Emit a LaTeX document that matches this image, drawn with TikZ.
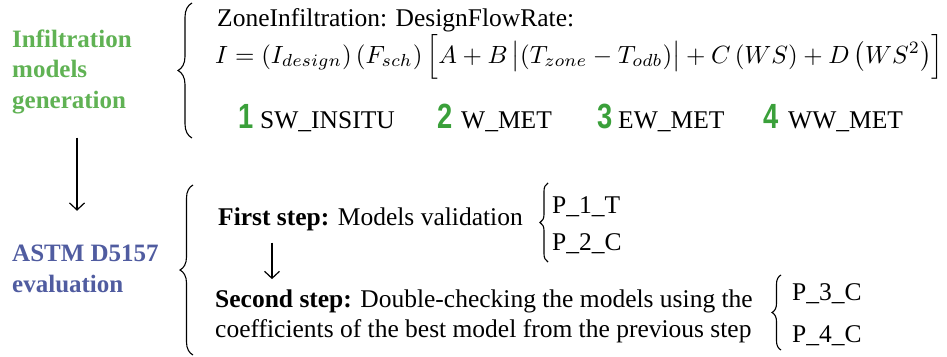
\documentclass[tikz,border=0pt]{standalone}
\usepackage{fontspec}
\setmainfont{Liberation Serif}
\newfontfamily\numfont[FakeStretch=0.78]{Liberation Sans}
\usepackage{graphicx}
\usetikzlibrary{calc,arrows.meta,decorations.pathreplacing}
\definecolor{gengreen}{RGB}{96,178,84}
\definecolor{numgreen}{RGB}{58,160,58}
\definecolor{astmblue}{RGB}{80,92,160}

\tikzset{
	head/.style={font=\fontsize{25}{30.5}\selectfont\bfseries,align=left,inner sep=0pt},
	txt/.style={font=\fontsize{25.5}{30}\selectfont,inner sep=0pt},
	num/.style={font=\fontsize{35}{35}\selectfont\numfont\bfseries,text=numgreen,inner sep=0pt},
	brc/.style={decorate,decoration={brace,amplitude=#1},line width=1.1pt},
	brc/.default=10pt,
	>={Straight Barb[length=7pt,width=15pt]},
}

\begin{document}
\begin{tikzpicture}[x=1pt,y=-1pt]
			\useasboundingbox (0,0) rectangle (947,356);
			
			\node[head,text=gengreen,anchor=base west](gen)at(12,108) {Infiltration\\models\\generation};
			\node[head,text=astmblue,anchor=base west](astm)at(12,292) {ASTM D5157\\evaluation};
			
			\draw[line width=1.2pt,->]([xshift=65pt,yshift=-24pt]gen.south west) -- ([xshift=65pt,yshift=34pt]astm.north west);
			
			% upper block
			\draw[brc=14pt](192,138) -- (192,3);
			\node[txt,anchor=base west](zone)at(217,27) {ZoneInfiltration: DesignFlowRate:};
			\node[inner sep=0pt,anchor=base west](eq)at(215,63) {\resizebox{728pt}{!}{$I=(I_{design})\,(F_{sch})\,\Big[A+B\,\big|(T_{zone}-T_{odb})\big|+C\,(WS)+D\,\big(WS^{2}\big)\Big]$}};
			
			\node[num,anchor=base west](n1)at(238,128) {1};
			\node[txt,anchor=base west](m1)at(260,128) {SW\_INSITU};
			\node[num,anchor=base west](n2)at(437,128) {2};
			\node[txt,anchor=base west](m2)at(461,128) {W\_MET};
			\node[num,anchor=base west](n3)at(597,128) {3};
			\node[txt,anchor=base west](m3)at(618,128) {EW\_MET};
			\node[num,anchor=base west](n4)at(763,128) {4};
			\node[txt,anchor=base west](m4)at(788,128) {WW\_MET};
			
			% lower block
			\draw[brc=13pt](193,355) -- (193,185);
			\node[txt,anchor=base west](first)at(218,225) {\textbf{First step:} Models validation};
			\draw[brc=8pt](548,262) -- (548,183);
			\node[txt,anchor=base west](p1)at(552,213) {P\_1\_T};
			\node[txt,anchor=base west](p2)at(552,250) {P\_2\_C};
			
			\node[txt,align=left,anchor=base west](second)at(215,337) {\textbf{Second step:} Double-checking the models using the\\coefficients of the best model from the previous step};
			\draw[brc=9pt](781,350) -- (781,275);
			\node[txt,anchor=base west](p3)at(792,300) {P\_3\_C};
			\node[txt,anchor=base west](p4)at(792,342) {P\_4\_C};
			
			\draw[line width=1.2pt,->]([xshift=54pt,yshift=-12pt]first.south west) -- ([xshift=57pt,yshift=10pt]second.north west);
		\end{tikzpicture}
\end{document}
